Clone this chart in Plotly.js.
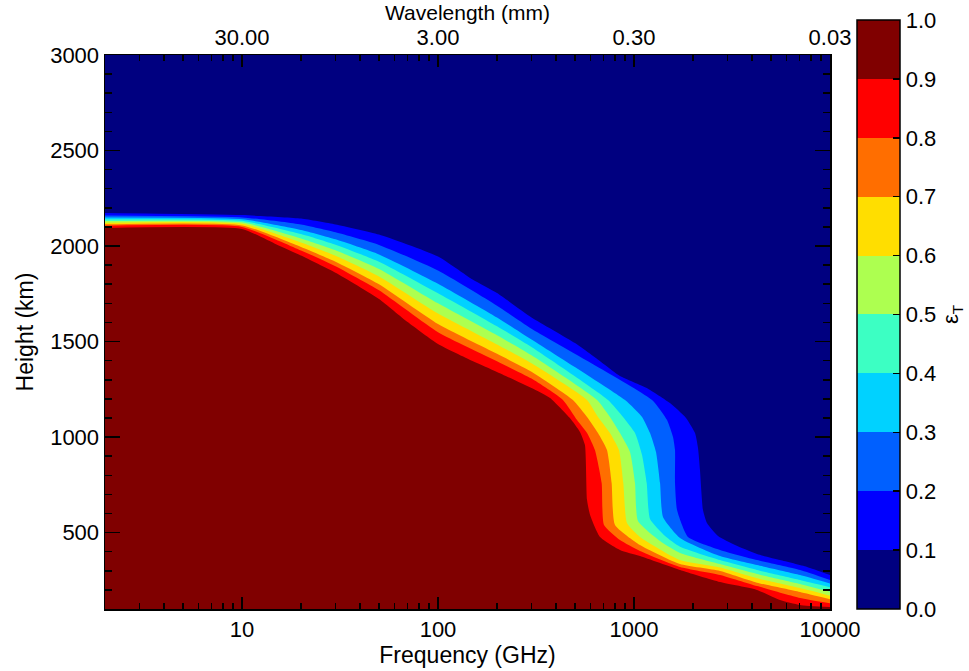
<!DOCTYPE html>
<html><head><meta charset="utf-8">
<script src="https://cdn.plot.ly/plotly-3.0.1.min.js"></script>
<style>html,body{margin:0;padding:0;background:#fff}#chart{width:969px;height:671px}</style>
</head><body><div id="chart"></div>
<script>
// contour levels of epsilon_T and the boundary line (frequency GHz, height km) of each level
const levels = [0.1, 0.2, 0.3, 0.4, 0.5, 0.6, 0.7, 0.8, 0.9];

const eps01Freq   = [2, 10, 20, 30, 50, 100, 150, 200, 300, 500, 700, 848, 1161, 1526, 1842, 2048, 2121, 2171, 2249, 2357, 2683, 3276, 4242, 5557, 7633, 10000];
const eps01Height = [2173, 2162, 2144, 2113, 2060, 1945, 1825, 1754, 1626, 1492, 1383, 1320, 1257, 1178, 1100, 1021, 943, 828, 618, 550, 482, 435, 388, 356, 320, 278];

const eps02Freq   = [2, 10, 20, 30, 50, 100, 200, 300, 1236, 1474, 1581, 1619, 1619, 1658, 1886, 2747, 4242, 7031, 10000];
const eps02Height = [2160, 2150, 2113, 2072, 2006, 1872, 1688, 1567, 1194, 1089, 1000, 932, 760, 618, 477, 409, 356, 304, 252];

const eps03Freq   = [2, 10, 20, 30, 50, 100, 200, 300, 900, 1099, 1207, 1295, 1358, 1406, 1717, 2747, 4242, 7031, 10000];
const eps03Height = [2149, 2140, 2084, 2035, 1956, 1803, 1626, 1511, 1194, 1105, 1021, 922, 760, 582, 472, 377, 330, 278, 234];

const eps04Freq   = [2, 10, 20, 30, 50, 100, 200, 300, 737, 879, 1012, 1099, 1161, 1207, 1440, 1717, 2747, 4242, 7031, 10000];
const eps04Height = [2140, 2132, 2063, 2007, 1918, 1753, 1580, 1471, 1194, 1105, 1021, 906, 760, 571, 482, 426, 356, 304, 252, 214];

const eps05Freq   = [2, 10, 20, 30, 50, 100, 200, 300, 648, 754, 848, 954, 1012, 1048, 1358, 1717, 2747, 4242, 7031, 10000];
const eps05Height = [2131, 2124, 2040, 1978, 1880, 1700, 1533, 1428, 1194, 1105, 1021, 922, 760, 561, 456, 393, 335, 283, 231, 190];

const eps06Freq   = [2, 10, 20, 30, 50, 100, 200, 300, 576, 655, 754, 838, 882, 921, 1073, 1717, 2747, 4242, 7031, 10000];
const eps06Height = [2122, 2116, 2018, 1949, 1841, 1647, 1485, 1386, 1194, 1105, 1021, 932, 760, 550, 477, 356, 317, 261, 210, 170];

const eps07Freq   = [2, 10, 20, 30, 50, 100, 200, 300, 488, 576, 655, 728, 769, 800, 1073, 1717, 2747, 4242, 7031, 10000];
const eps07Height = [2114, 2108, 1995, 1918, 1800, 1592, 1436, 1342, 1194, 1105, 1021, 932, 760, 540, 435, 335, 299, 238, 189, 151];

const eps08Freq   = [2, 10, 20, 30, 50, 100, 200, 300, 434, 512, 576, 632, 684, 703, 848, 1073, 1717, 2747, 4242, 7031, 10000];
const eps08Height = [2106, 2100, 1977, 1894, 1768, 1549, 1397, 1306, 1194, 1089, 1021, 932, 760, 540, 461, 404, 320, 278, 220, 158, 130];

const eps09Freq   = [2, 10, 15, 20, 30, 50, 70, 100, 150, 200, 300, 373, 471, 530, 562, 576, 597, 671, 848, 1073, 1717, 2747, 4242, 5557, 7031, 10000];
const eps09Height = [2095, 2089, 2008, 1950, 1860, 1723, 1602, 1487, 1398, 1341, 1257, 1205, 1100, 1027, 958, 671, 592, 477, 409, 377, 304, 241, 200, 147, 121, 110];

// band colours, from 0.0-0.1 up to 0.9-1.0
const bandColors = ['#000080', '#0000ff', '#0060ff', '#00d2ff', '#3cffc3', '#adff50', '#ffde00', '#ff6e00', '#ff0000', '#800000'];

// ticks
const freqTickVals = [10, 100, 1000, 10000];
const freqTickText = ['10', '100', '1000', '10000'];
const wavelengthTickText = ['30.00', '3.00', '0.30', '0.03'];
const heightTickVals = [500, 1000, 1500, 2000, 2500, 3000];
const epsTickVals = [0, 0.1, 0.2, 0.3, 0.4, 0.5, 0.6, 0.7, 0.8, 0.9, 1.0];

const contourLines = [
  [eps01Freq, eps01Height], [eps02Freq, eps02Height], [eps03Freq, eps03Height],
  [eps04Freq, eps04Height], [eps05Freq, eps05Height], [eps06Freq, eps06Height],
  [eps07Freq, eps07Height], [eps08Freq, eps08Height], [eps09Freq, eps09Height]
];

const traces = contourLines.map((c, i) => ({
  type: 'scatter', mode: 'lines', x: c[0], y: c[1],
  fill: 'tozeroy', fillcolor: bandColors[i + 1],
  line: {width: 0, color: bandColors[i + 1], shape: 'spline', smoothing: 0.5},
  hoverinfo: 'skip', showlegend: false, name: 'ε=' + levels[i]
}));

// stepped colour scale for the colour bar
const stepScale = [];
bandColors.forEach((c, i) => { stepScale.push([i / 10, c]); stepScale.push([(i + 1) / 10, c]); });

traces.push({
  type: 'scatter', mode: 'markers', x: [1, 1], y: [150, 150],
  marker: {
    size: 1, color: [0, 1], cmin: 0, cmax: 1, colorscale: stepScale, showscale: true,
    colorbar: {
      x: 1.037, xanchor: 'left', xpad: 0, y: 0, yanchor: 'bottom', ypad: 0,
      len: 1.063, lenmode: 'fraction', thickness: 43,
      outlinewidth: 1.5, outlinecolor: '#000',
      tickmode: 'array', tickvals: epsTickVals, tickformat: '.1f',
      ticks: 'inside', ticklen: 7, tickwidth: 1.5, tickcolor: '#000',
      tickfont: {size: 22, color: '#000'},
      title: {text: 'ε<sub>T</sub>', side: 'right', font: {size: 22, color: '#000'}}
    }
  },
  hoverinfo: 'skip', showlegend: false
});

// minor log ticks
const minorLog = [];
[1, 10, 100, 1000].forEach(d => { for (let k = 2; k <= 9; k++) minorLog.push(k * d); });

const font = {family: 'Liberation Sans, Arial, sans-serif', size: 22, color: '#000'};
const xr = [Math.log10(2), 4];

const layout = {
  width: 969, height: 671,
  margin: {l: 105, r: 139, t: 55, b: 62, pad: 0, autoexpand: false},
  paper_bgcolor: '#fff', plot_bgcolor: bandColors[0],
  font: font, showlegend: false,
  xaxis: {
    type: 'log', range: xr, autorange: false,
    tickmode: 'array', tickvals: freqTickVals, ticktext: freqTickText,
    ticks: 'inside', ticklen: 12, tickwidth: 1.5, tickcolor: '#000',
    minor: {tickmode: 'array', tickvals: minorLog, ticks: 'inside', ticklen: 6, tickwidth: 1.5, tickcolor: '#000', showgrid: false},
    showline: true, linecolor: '#000', linewidth: 1.5, mirror: false, layer: 'above traces',
    showgrid: false, zeroline: false, automargin: false,
    title: {text: 'Frequency (GHz)', font: {size: 23}, standoff: 6}
  },
  xaxis2: {
    type: 'log', range: xr, autorange: false, overlaying: 'x', side: 'top', anchor: 'y',
    tickmode: 'array', tickvals: freqTickVals, ticktext: wavelengthTickText,
    ticks: 'inside', ticklen: 12, tickwidth: 1.5, tickcolor: '#000',
    minor: {tickmode: 'array', tickvals: minorLog, ticks: 'inside', ticklen: 6, tickwidth: 1.5, tickcolor: '#000', showgrid: false},
    showline: true, linecolor: '#000', linewidth: 1.5, layer: 'above traces',
    showgrid: false, zeroline: false, automargin: false
  },
  yaxis: {
    range: [100, 3000], autorange: false,
    tickmode: 'array', tickvals: heightTickVals,
    ticks: 'inside', ticklen: 15, tickwidth: 1.5, tickcolor: '#000',
    minor: {dtick: 100, tick0: 0, ticks: 'inside', ticklen: 7, tickwidth: 1.5, tickcolor: '#000', showgrid: false},
    showline: true, linecolor: '#000', linewidth: 1.5, mirror: 'ticks', layer: 'above traces',
    showgrid: false, zeroline: false, automargin: false,
    title: {text: 'Height (km)', font: {size: 23}, standoff: 10}
  },
  annotations: [{
    text: 'Wavelength (mm)', xref: 'paper', yref: 'paper', x: 0.5, y: 1.076,
    xanchor: 'center', yanchor: 'middle', showarrow: false, font: {size: 21, color: '#000'}
  }]
};

Plotly.newPlot('chart', traces, layout, {staticPlot: true, displayModeBar: false}).then(() => {
  // an empty trace keeps the top wavelength axis drawn
  Plotly.addTraces('chart', {type: 'scatter', mode: 'markers', x: [1], y: [150], xaxis: 'x2', marker: {size: 1, opacity: 0}, hoverinfo: 'skip', showlegend: false});
});
</script>
</body></html>
